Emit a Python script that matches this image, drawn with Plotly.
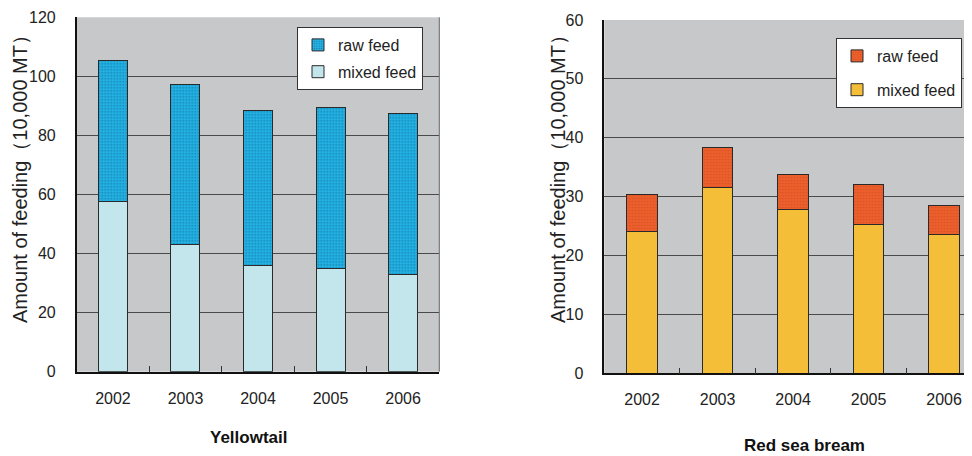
import plotly.graph_objects as go

years = ["2002", "2003", "2004", "2005", "2006"]
yt_mixed = [57.7, 43.1, 35.8, 35.0, 33.0]
yt_raw = [47.8, 54.0, 52.6, 54.4, 54.4]
rsb_mixed = [24.0, 31.6, 27.9, 25.3, 23.5]
rsb_raw = [6.4, 6.8, 5.9, 6.8, 5.0]

# Page has an 8px body margin; figure is sized to fit inside the 972x456 window.
W, H = 956, 448
OFF = 8


def px(x):
    return (x - OFF) / W


def py(y):
    return 1 - (y - OFF) / H


FONT = "Liberation Sans"
LINE = dict(color="#2a2a2a", width=1)

fig = go.Figure()
fig.add_trace(go.Bar(x=years, y=yt_mixed, name="mixed feed", marker=dict(color="#c2e6ec", line=LINE),
                     xaxis="x", yaxis="y", legend="legend", width=0.4, legendgroup="a", legendrank=2))
fig.add_trace(go.Bar(x=years, y=yt_raw, name="raw feed",
                     marker=dict(color="#22b2e4", line=LINE,
                                 pattern=dict(shape=".", fgcolor="#0a4a70", bgcolor="#22b2e4", size=3, solidity=0.25)),
                     xaxis="x", yaxis="y", legend="legend", width=0.4, legendgroup="b", legendrank=1))
fig.add_trace(go.Bar(x=years, y=rsb_mixed, name="mixed feed", marker=dict(color="#f4be38", line=LINE),
                     xaxis="x2", yaxis="y2", legend="legend2", width=0.4, legendgroup="c", legendrank=2))
fig.add_trace(go.Bar(x=years, y=rsb_raw, name="raw feed",
                     marker=dict(color="#ec5f2c", line=LINE,
                                 pattern=dict(shape=".", fgcolor="#c4461e", bgcolor="#ec5f2c", size=3, solidity=0.25)),
                     xaxis="x2", yaxis="y2", legend="legend2", width=0.4, legendgroup="d", legendrank=1))

xcommon = dict(showline=True, linecolor="#111111", linewidth=1.5, ticks="inside", tickson="boundaries",
               ticklen=6, tickcolor="#333333", tickfont=dict(family=FONT, size=16, color="#222222"),
               ticklabelstandoff=11, automargin=False, showgrid=False, fixedrange=True)
ycommon = dict(showline=True, linecolor="#111111", linewidth=1.5, showgrid=True, gridcolor="#4a4a4a",
               gridwidth=1, ticks="", tickfont=dict(family=FONT, size=16, color="#222222"),
               ticklabelstandoff=16, automargin=False, zeroline=False)

legcommon = dict(bgcolor="white", bordercolor="#333333", borderwidth=1, traceorder="grouped",
                 font=dict(family=FONT, size=16, color="#222222"),
                 xanchor="left", yanchor="top", itemwidth=30)

fig.update_layout(
    width=W, height=H, margin=dict(l=0, r=0, t=0, b=0),
    paper_bgcolor="white", plot_bgcolor="#c7c8ca", barmode="stack",
    xaxis=dict(domain=[px(76.7), px(439.3)], range=[-0.5, 4.5], **xcommon),
    yaxis=dict(domain=[py(371.7), py(17.3)], range=[0, 120], dtick=20, **ycommon),
    xaxis2=dict(domain=[px(604.3), 1.0], range=[-0.5, 4.264], anchor="y2", **xcommon),
    yaxis2=dict(domain=[py(373.3), py(20)], range=[0, 60], dtick=10, anchor="x2", **ycommon),
    legend=dict(x=px(297), y=py(27), tracegroupgap=3, **legcommon),
    legend2=dict(x=px(836), y=py(38), tracegroupgap=10, **legcommon),
    annotations=[
        dict(text="Amount of feeding（10,000 MT）", xref="paper", yref="paper", x=px(20), y=py(174),
             xanchor="center", yanchor="middle",
             textangle=-90, showarrow=False, font=dict(family=FONT, size=20, color="#222222")),
        dict(text="Amount of feeding（10,000 MT）", xref="paper", yref="paper", x=px(558), y=py(174),
             xanchor="center", yanchor="middle",
             textangle=-90, showarrow=False, font=dict(family=FONT, size=20, color="#222222")),
        dict(text="<b>Yellowtail</b>", xref="paper", yref="paper", x=px(249), y=py(437),
             xanchor="center", yanchor="middle",
             showarrow=False, font=dict(family=FONT, size=17, color="#111111")),
        dict(text="<b>Red sea bream</b>", xref="paper", yref="paper", x=px(804), y=py(445),
             xanchor="center", yanchor="middle",
             showarrow=False, font=dict(family=FONT, size=17, color="#111111")),
    ],
    shapes=[dict(type="line", xref="x domain", yref="y domain", x0=1, x1=1, y0=0, y1=1,
                 line=dict(color="#666666", width=1))],
)

fig.write_html("out.html")
